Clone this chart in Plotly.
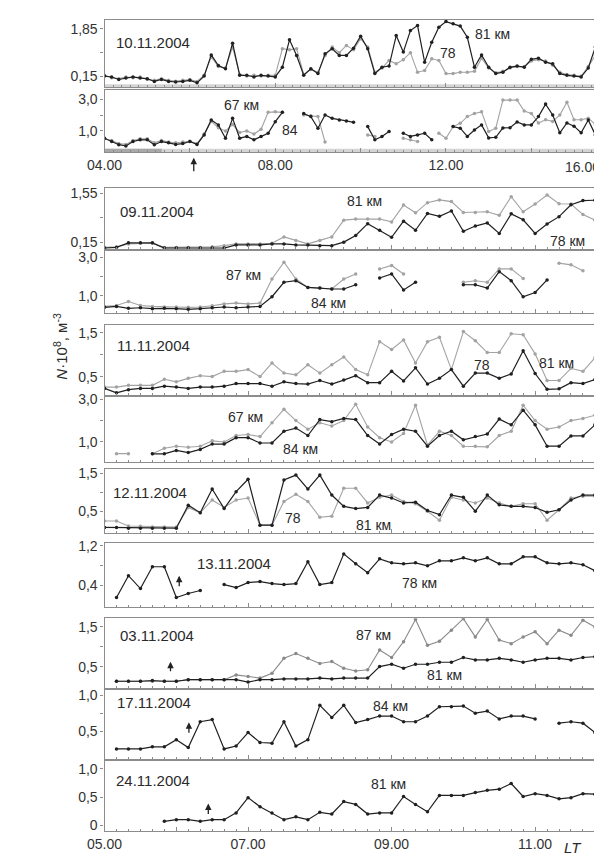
import plotly.graph_objects as go

# The page body keeps its default 8px margin, so the figure is drawn 8px
# in from the top-left corner; reference pixel positions are shifted by OFF.
OFF = 8
W, H = 602 - OFF, 860 - OFF
X0, X1 = 89, 600

# ---------------- time grids (10-minute sampling) ----------------
t_top = [4 + i / 6 for i in range(70)]   # 10.11.2004, 04.00 ...
t_bot = [5 + i / 6 for i in range(43)]   # other days, 05.00 ...

# ---------------- 10.11.2004 ----------------
d1011_81 = [0.16, 0.13, 0.04, 0.09, 0.13, 0.09, 0.07, -0.03, 0.04, -0.03,
            -0.05, -0.03, 0.01, -0.08, 0.16, 0.92, 0.54, 0.42, 1.34, 0.19,
            0.19, 0.13, 0.19, 0.16, 0.13, 0.48, 1.46, 0.90, 0.19, 0.42,
            0.25, 0.96, 1.14, 0.90, 0.90, 1.16, 1.59, 1.14, 0.25, 0.48,
            0.52, 1.61, 1.02, 1.79, 1.97, 0.66, 1.37, 1.91, 2.11, 2.03,
            1.95, 1.55, 0.48, 0.92, 0.48, 0.25, 0.30, 0.48, 0.52, 0.48,
            0.76, 0.80, 0.66, 0.60, 0.25, 0.19, 0.16, 0.13, 0.45, 1.20]
d1011_78 = [0.19, 0.10, 0.07, 0.13, 0.10, 0.13, 0.04, 0.01, 0.07, 0.01,
            -0.02, 0.01, 0.04, -0.03, 0.19, 0.85, 0.50, 0.45, 1.20, 0.22,
            0.16, 0.19, 0.16, 0.19, 0.19, 1.14, 1.10, 1.14, 0.22, 0.40,
            0.30, 0.90, 1.20, 1.00, 1.26, 1.10, 1.50, 1.20, 0.30, 0.45,
            0.72, 0.60, 0.75, 1.00, 0.30, 0.36, 0.78, 0.72, 0.25, 0.25,
            0.30, 0.30, 0.33, 0.80, 0.45, 0.28, 0.33, 0.45, 0.50, 0.50,
            0.70, 0.75, 0.70, 0.55, 0.30, 0.22, 0.19, 0.16, 0.50, 0.90]
d1011_84 = [0.54, 0.33, 0.13, 0.05, 0.33, 0.44, 0.44, 0.13, 0.33, 0.25,
            0.15, 0.20, 0.33, 0.15, 0.75, 1.69, 1.38, 0.54, 1.79, 0.54,
            0.65, 0.44, 0.65, 0.85, 1.58, 2.17, None, None, 2.10, 1.90,
            1.17, 2.00, 1.79, 1.69, 1.63, 1.54, None, 1.27, 0.44, 0.65,
            0.96, None, 0.85, 0.65, 0.75, 0.85, 0.44, None, None, 1.27,
            1.17, 0.65, 1.06, 1.38, 0.56, 0.60, 1.19, 1.20, 1.56, 1.38,
            1.38, 1.90, 2.69, 2.00, 0.88, 1.50, 1.30, 0.88, 1.69, 0.75]
d1011_67 = [0.50, 0.40, 0.20, 0.15, 0.40, 0.50, 0.50, 0.25, 0.40, 0.30,
            0.25, 0.30, 0.35, 0.20, 0.80, 1.60, 1.20, 1.00, 1.40, 0.90,
            1.00, 0.80, 1.10, 2.17, 2.20, 2.17, None, None, 2.00, 1.95,
            1.90, 0.30, None, None, None, None, None, 0.75, 0.65, None,
            None, None, 0.54, 0.44, 0.33, None, None, 0.85, 0.54, 1.27,
            1.48, 1.90, 2.10, 2.20, 0.96, 1.17, 2.94, 2.94, 2.94, 2.25,
            2.10, 1.50, 1.70, 1.60, 2.00, 2.81, 1.70, 1.70, 1.80, 1.40]

# ---------------- 09.11.2004 ----------------
d0911_78 = [-0.02, 0.0, 0.13, 0.13, 0.13, -0.02, -0.02, -0.02, -0.02, -0.02,
            -0.02, 0.07, 0.07, 0.07, 0.10, 0.10, 0.07, 0.07, 0.05, 0.05,
            0.15, 0.34, 0.68, 0.49, 0.29, 0.75, 0.49, 0.97, 0.89, 1.04,
            0.46, 0.61, 0.70, 0.40, 0.96, 0.79, 0.40, 0.67, 0.88, 1.22,
            1.34, 1.35, 1.05]
d0911_81 = [0.0, 0.02, 0.10, 0.12, 0.12, 0.0, 0.0, 0.0, 0.0, 0.02,
            0.05, 0.10, 0.10, 0.10, 0.12, 0.30, 0.20, 0.10, 0.20, 0.30,
            0.78, 0.81, 0.81, 0.81, 0.73, 1.21, 0.99, 1.28, 1.36, 1.31,
            1.00, 1.00, 1.02, 0.92, 1.45, 1.02, 1.24, 1.50, 1.25, 1.24,
            0.94, 0.78, 0.70]
d0911_84 = [0.40, 0.45, 0.35, 0.38, 0.33, 0.35, 0.33, 0.30, 0.33, 0.38,
            0.42, 0.38, 0.42, 0.45, 0.95, 1.70, 1.78, 1.43, 1.40, 1.35,
            1.35, 1.57, None, 1.92, 2.13, 1.30, 1.70, None, None, None,
            1.57, 1.57, 1.40, 2.25, 1.78, 0.95, 1.17, 1.82, None, None,
            None, None, None]
d0911_87 = [0.45, 0.50, 0.70, 0.50, 0.45, 0.42, 0.42, 0.40, 0.42, 0.48,
            0.58, 0.62, 0.58, 0.62, 1.87, 2.74, 1.87, 1.43, 1.40, 1.35,
            1.87, 2.13, None, 2.39, 2.57, 2.13, None, None, None, None,
            1.70, 1.78, 1.70, 2.39, 2.39, 1.90, None, None, 2.69, 2.60,
            2.30, None, None]

# ---------------- 11.11.2004 ----------------
d1111_78 = [0.23, 0.13, 0.20, 0.23, 0.23, 0.28, 0.26, 0.23, 0.26, 0.26,
            0.28, 0.34, 0.34, 0.34, 0.28, 0.38, 0.34, 0.33, 0.41, 0.33,
            0.42, 0.52, 0.36, 0.36, 0.62, 0.40, 0.70, 0.33, 0.46, 0.66,
            0.28, 0.58, 0.58, 0.46, 0.56, 1.09, 0.57, 0.21, 0.22, 0.36,
            0.34, 0.43, 1.50]
d1111_81 = [0.26, 0.26, 0.30, 0.30, 0.30, 0.44, 0.38, 0.46, 0.52, 0.50,
            0.62, 0.62, 0.66, 0.50, 0.81, 0.58, 0.54, 0.77, 0.58, 0.77,
            0.95, 0.66, 0.54, 1.30, 1.12, 1.34, 0.81, 1.30, 1.40, 0.66,
            1.53, 1.32, 1.05, 1.05, 1.48, 1.46, 1.02, 0.41, 0.41, 0.69,
            0.62, 0.93, 1.80]
d1111_84 = [None, None, None, None, 0.44, 0.44, 0.60, 0.50, 0.65, 0.90,
            0.90, 1.20, 1.20, 0.95, 0.95, 1.50, 1.65, 1.30, 2.05, 1.95,
            2.10, 2.05, 1.30, 0.90, 1.35, 1.60, 1.50, 0.80, 1.30, 1.50,
            1.10, 1.25, 1.37, 2.07, 1.80, 2.49, 1.80, 0.80, 0.80, 1.28,
            1.28, 1.80, 1.60]
d1111_67 = [None, 0.45, 0.45, None, 0.44, 0.70, 0.80, 0.75, 0.80, 1.05,
            1.00, 1.30, 1.35, 1.25, 1.90, 2.53, 2.00, 1.60, 1.90, 1.75,
            2.00, 2.77, 1.70, 1.20, 1.00, 1.40, 2.72, 0.85, 1.50, 1.30,
            0.80, 0.80, 0.77, 1.30, 1.50, 2.72, 2.00, 1.60, 1.70, 2.00,
            2.10, 2.25, 2.30]

# ---------------- 12.11.2004 ----------------
d1211_a = [0.07, 0.07, 0.05, 0.05, 0.05, 0.05, 0.05, 0.66, 0.46, 1.09,
           0.57, 1.02, 1.35, 0.13, 0.13, 1.33, 1.46, 1.09, 1.46, 0.93,
           0.63, 0.57, 0.60, 0.93, 0.85, 0.72, 0.74, 0.52, 0.41, 0.93,
           0.87, 0.50, 0.93, 0.67, 0.63, 0.63, 0.60, 0.47, 0.54, 0.80,
           0.93, 0.93, 0.54]
d1211_b = [0.24, 0.24, 0.11, 0.10, 0.08, 0.08, 0.08, 0.60, 0.46, 0.80,
           0.60, 0.80, 0.85, 0.13, 0.13, 0.76, 0.95, 0.76, 0.34, 0.37,
           1.11, 1.11, 0.72, 0.87, 0.93, 0.76, 0.70, 0.50, 0.26, 0.87,
           0.80, 0.72, 0.85, 0.72, 0.63, 0.70, 0.70, 0.26, 0.54, 0.85,
           0.90, 0.90, 0.54]

# ---------------- 13.11.2004 ----------------
d1311_78 = [None, 0.16, 0.60, 0.34, 0.78, 0.78, 0.16, 0.24, 0.30, None,
            0.42, 0.36, 0.46, 0.48, 0.44, 0.42, 0.44, 0.88, 0.42, 0.46,
            1.04, 0.84, 0.66, 0.94, 0.86, 0.84, 0.86, 0.80, 0.90, 0.90,
            0.96, 0.90, 0.96, 0.84, 0.84, 0.98, 0.98, 0.86, 0.84, 0.86,
            0.82, 0.70, 0.80]

# ---------------- 03.11.2004 ----------------
d0311_87 = [None, 0.13, 0.13, 0.13, 0.13, 0.13, 0.13, 0.17, 0.17, 0.17,
            0.17, 0.29, 0.25, 0.21, 0.33, 0.71, 0.83, 0.71, 0.58, 0.63,
            0.46, 0.39, 0.42, 0.92, 0.73, 1.13, 1.69, 1.04, 1.14, 1.42,
            1.71, 1.25, 1.69, 1.17, 1.08, 1.25, 1.38, 1.08, 1.42, 1.29,
            1.67, 1.50]
d0311_81 = [None, 0.13, 0.13, 0.13, 0.15, 0.13, 0.13, 0.17, 0.17, 0.17,
            0.17, 0.17, 0.11, 0.17, 0.17, 0.19, 0.19, 0.19, 0.21, 0.19,
            0.21, 0.21, 0.21, 0.50, 0.56, 0.46, 0.56, 0.56, 0.61, 0.61,
            0.73, 0.67, 0.67, 0.71, 0.67, 0.61, 0.67, 0.71, 0.71, 0.67,
            0.73, 0.75]

# ---------------- 17.11.2004 ----------------
d1711_84 = [None, 0.25, 0.25, 0.25, 0.28, 0.28, 0.38, 0.27, 0.63, 0.66,
            0.25, 0.29, 0.48, 0.34, 0.33, 0.63, 0.29, 0.38, 0.86, 0.69,
            0.86, 0.62, 0.66, 0.71, 0.71, 0.63, 0.63, 0.71, 0.84, 0.84,
            0.85, 0.75, 0.78, 0.67, 0.71, 0.71, 0.67, None, 0.61, 0.63,
            0.61, 0.48]

# ---------------- 24.11.2004 ----------------
d2411_81 = [None, None, None, None, None, 0.07, 0.10, 0.10, 0.07, 0.10,
            0.10, 0.22, 0.49, 0.33, 0.22, 0.10, 0.15, 0.10, 0.23, 0.20,
            0.42, 0.37, 0.20, 0.22, 0.22, 0.51, 0.37, 0.24, 0.53, 0.53,
            0.53, 0.58, 0.62, 0.64, 0.74, 0.51, 0.56, 0.53, 0.47, 0.49,
            0.56, 0.55]

# ---------------- axis tick labels ----------------
top_tickvals = [4, 6, 8, 10, 12, 14]
top_ticktext = ["04.00", "", "08.00", "", "12.00", ""]
bot_tickvals = [5, 6, 7, 8, 9, 10, 11]
bot_ticktext = ["05.00", "", "07.00", "", "09.00", "", "11.00"]

BLACK = "#202020"
GRAY = "#a3a3a3"
AX = "#8c8c8c"
FONT = "Liberation Sans, Arial, sans-serif"

panels = [
    dict(top=14, bot=82, yr=[-0.24, 2.17], tv=[0.15, 1.0, 1.85], tt=["0,15", "", "1,85"],
         sc="top", gray=d1011_78, black=d1011_81),
    dict(top=85, bot=147, yr=[-0.31, 3.56], tv=[1.0, 2.0, 3.0], tt=["1,0", "", "3,0"],
         sc="top", gray=d1011_67, black=d1011_84, lab=True),
    dict(top=184, bot=245, yr=[-0.04, 1.69], tv=[0.15, 0.85, 1.55], tt=["0,15", "", "1,55"],
         sc="bot", gray=d0911_81, black=d0911_78),
    dict(top=247, bot=310, yr=[0.10, 3.33], tv=[1.0, 2.0, 3.0], tt=["1,0", "", "3,0"],
         sc="bot", gray=d0911_87, black=d0911_84),
    dict(top=322, bot=393, yr=[0.07, 1.68], tv=[0.5, 1.0, 1.5], tt=["0,5", "", "1,5"],
         sc="bot", gray=d1111_81, black=d1111_78),
    dict(top=395, bot=460, yr=[0.07, 3.09], tv=[1.0, 2.0, 3.0], tt=["1,0", "", "3,0"],
         sc="bot", gray=d1111_67, black=d1111_84),
    dict(top=467, bot=532, yr=[-0.08, 1.63], tv=[0.5, 1.0, 1.5], tt=["0,5", "", "1,5"],
         sc="bot", gray=d1211_b, black=d1211_a),
    dict(top=542, bot=607, yr=[-0.04, 1.26], tv=[0.4, 0.8, 1.2], tt=["0,4", "", "1,2"],
         sc="bot", gray=None, black=d1311_78),
    dict(top=618, bot=688, yr=[-0.03, 1.72], tv=[0.5, 1.0, 1.5], tt=["0,5", "", "1,5"],
         sc="bot", gray=d0311_87, black=d0311_81, gray_dark=True),
    dict(top=690, bot=760, yr=[0.11, 1.08], tv=[0.5, 0.75, 1.0], tt=["0,5", "", "1,0"],
         sc="bot", gray=None, black=d1711_84),
    dict(top=762, bot=833, yr=[-0.105, 1.14], tv=[0, 0.5, 1.0], tt=["0", "0,5", "1,0"],
         sc="bot", gray=None, black=d2411_81, lab=True),
]


def fx(x):
    return (x - OFF) / W


def fy(y):
    return 1 - (y - OFF) / H


fig = go.Figure()
layout = {}
for k, p in enumerate(panels):
    n = k + 1
    xs = "" if n == 1 else str(n)
    xa, ya = "x" + xs, "y" + xs
    t = t_top if p["sc"] == "top" else t_bot
    if p["gray"] is not None:
        gc = "#8a8a8a" if p.get("gray_dark") else GRAY
        fig.add_trace(go.Scatter(
            x=t[:len(p["gray"])], y=p["gray"], mode="lines+markers",
            line=dict(color=gc, width=1.1),
            marker=dict(color=gc, size=3.5, symbol="circle"),
            xaxis=xa, yaxis=ya, showlegend=False, hoverinfo="skip"))
    fig.add_trace(go.Scatter(
        x=t[:len(p["black"])], y=p["black"], mode="lines+markers",
        line=dict(color=BLACK, width=1.2),
        marker=dict(color=BLACK, size=3.5, symbol="circle"),
        xaxis=xa, yaxis=ya, showlegend=False, hoverinfo="skip"))

    if p["sc"] == "top":
        xr, tv, tt = [4.0, 15.61], top_tickvals, top_ticktext
        minor = dict(tickmode="linear", tick0=4, dtick=0.2, ticklen=2, ticks="inside", tickcolor=AX)
    else:
        xr, tv, tt = [5.0, 11.905], bot_tickvals, bot_ticktext
        minor = dict(tickmode="linear", tick0=5, dtick=1 / 6, ticklen=2, ticks="inside", tickcolor=AX)

    layout["xaxis" + xs] = dict(
        domain=[fx(X0), min(1.0, fx(X1))], anchor=ya, range=xr,
        tickmode="array", tickvals=tv, ticktext=tt,
        showticklabels=bool(p.get("lab")), ticks="inside", ticklen=4, tickcolor=AX,
        minor=minor, showline=True, linecolor=AX, linewidth=1.2, mirror=True,
        showgrid=False, zeroline=False,
        tickfont=dict(family=FONT, size=14, color="#333"),
        ticklabelstandoff=0,
    )
    layout["yaxis" + xs] = dict(
        domain=[fy(p["bot"]), fy(p["top"])], anchor=xa, range=p["yr"],
        tickmode="array", tickvals=p["tv"], ticktext=p["tt"],
        ticks="outside", ticklen=3, tickcolor=AX,
        showline=True, linecolor=AX, linewidth=1.2, mirror=True,
        showgrid=False, zeroline=False,
        tickfont=dict(family=FONT, size=14, color="#333"),
    )

anns = []


def txt(s, x, y, size=14, **kw):
    anns.append(dict(text=s, x=fx(x), y=fy(y), xref="paper", yref="paper",
                     showarrow=False, font=dict(family=FONT, size=size, color="#2a2a2a"),
                     xanchor="center", yanchor="middle", **kw))


# date labels
for s, x, y in [("10.11.2004", 139, 37), ("09.11.2004", 143, 207), ("11.11.2004", 139, 343),
                ("12.11.2004", 136, 491), ("13.11.2004", 222, 563), ("03.11.2004", 143, 635),
                ("17.11.2004", 140, 703), ("24.11.2004", 139, 782)]:
    txt(s, x, y, size=15)

# altitude labels
for s, x, y in [("81 км", 489, 28), ("78", 443, 47), ("67 км", 230, 100), ("84", 280, 125),
                ("81 км", 357, 197), ("78 км", 566, 237), ("87 км", 232, 271), ("84 км", 320, 300),
                ("78", 478, 362), ("81 км", 555, 360), ("67 км", 234, 415), ("84 км", 291, 447),
                ("78", 283, 517), ("81 км", 366, 524), ("78 км", 414, 582),
                ("87 км", 366, 635), ("81 км", 440, 675), ("84 км", 384, 707), ("81 км", 382, 785)]:
    txt(s, x, y, size=14)

# extra axis texts
anns.append(dict(text="16.00", x=1.0, y=fy(162), xref="paper", yref="paper",
                 showarrow=False, xanchor="right", yanchor="middle",
                 font=dict(family=FONT, size=14, color="#333")))
anns.append(dict(text="<i>LT</i>", x=fx(583), y=fy(849), xref="paper", yref="paper",
                 showarrow=False, yanchor="middle",
                 font=dict(family=FONT, size=15, color="#2a2a2a")))
anns.append(dict(text="<i>N</i>·10<sup>8</sup>, м<sup>-3</sup>", x=fx(32), y=fy(343),
                 xref="paper", yref="paper", showarrow=False, textangle=-90,
                 font=dict(family=FONT, size=15, color="#2a2a2a")))

# arrows (head position, tail 11-15 px below)
for x, y, L in [(181, 153, 15), (166, 575, 12), (157, 662, 11), (176, 723, 12), (196, 805, 12)]:
    anns.append(dict(text="", x=fx(x), y=fy(y), xref="paper", yref="paper",
                     showarrow=True, ax=0, ay=L, arrowhead=2, arrowsize=1,
                     arrowwidth=1.3, arrowcolor="#222"))

shapes = [
    dict(type="rect", xref="paper", yref="paper", x0=fx(X0), x1=fx(X1), y0=fy(83), y1=fy(79),
         fillcolor="#d5d5d5", line=dict(width=0), layer="below"),
    dict(type="rect", xref="paper", yref="paper", x0=fx(X0), x1=fx(X1), y0=fy(148), y1=fy(144),
         fillcolor="#d5d5d5", line=dict(width=0), layer="below"),
    dict(type="rect", xref="paper", yref="paper", x0=fx(X0), x1=fx(148), y0=fy(148), y1=fy(144),
         fillcolor="#a8a8a8", line=dict(width=0), layer="below"),
]

fig.update_layout(
    width=W, height=H, margin=dict(l=0, r=0, t=0, b=0),
    paper_bgcolor="white", plot_bgcolor="white",
    annotations=anns, shapes=shapes, showlegend=False,
    **layout,
)

fig.write_html("out.html")
